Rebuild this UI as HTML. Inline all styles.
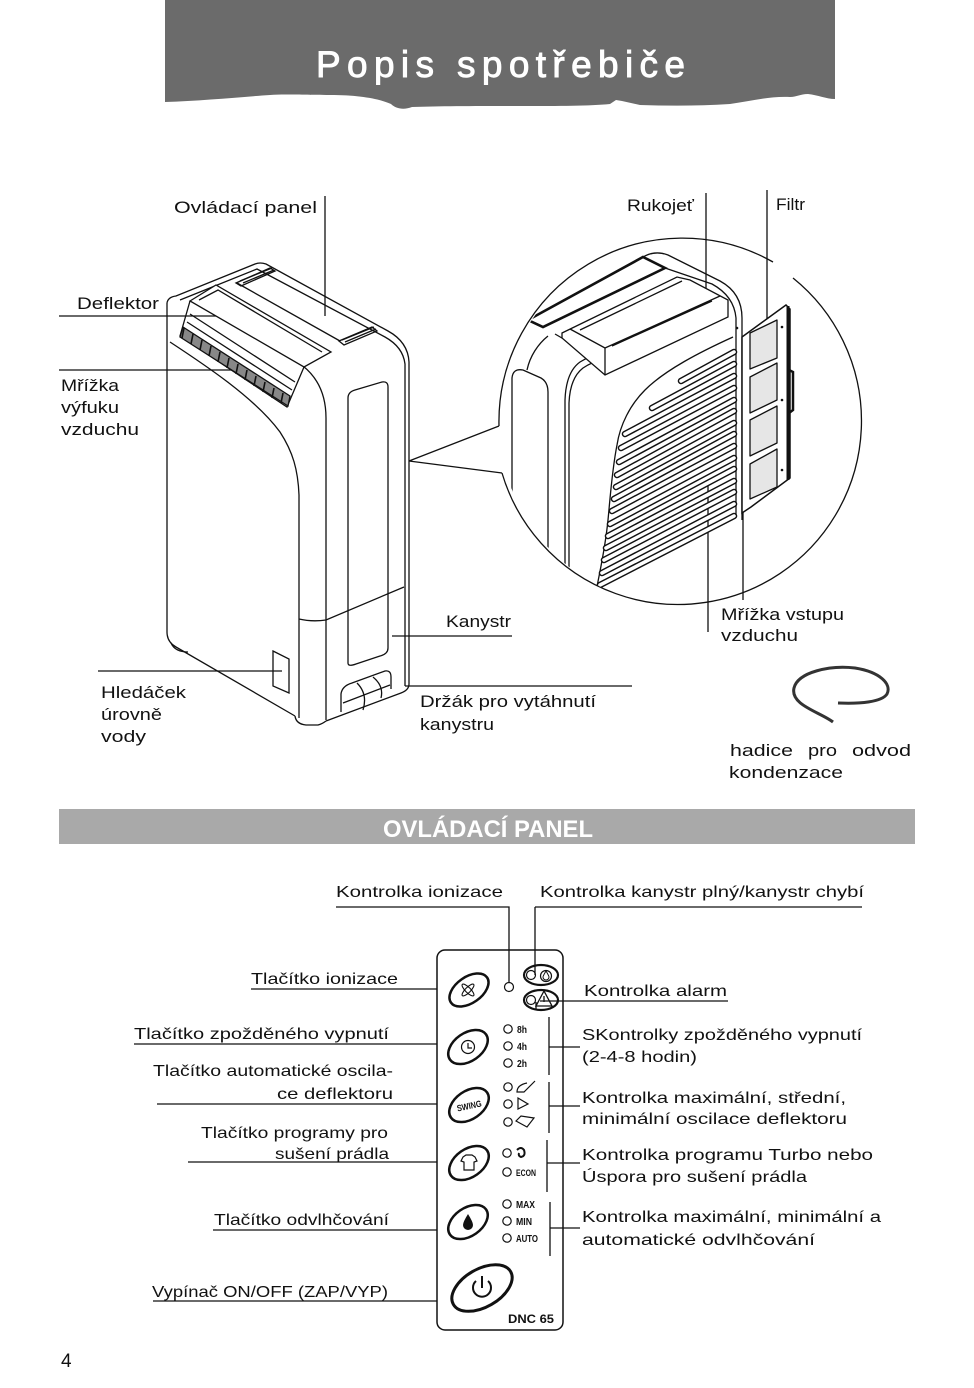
<!DOCTYPE html>
<html><head><meta charset="utf-8">
<style>
html,body{margin:0;padding:0;background:#fff;}
svg{display:block;}
text{font-family:"Liberation Sans","DejaVu Sans",sans-serif;fill:#111;}
.ln{stroke:#111;stroke-width:1.3;fill:none;}
.t{font-size:16.5px;}
.p{font-size:16px;}
.b{font-weight:bold;}
</style></head><body>
<svg width="974" height="1388" viewBox="0 0 974 1388" xmlns="http://www.w3.org/2000/svg">
<defs>
<clipPath id="cc"><circle cx="682" cy="423.5" r="182.5"/></clipPath>
</defs>

<!-- HEADER -->
<path d="M165,0 H835 V99 C826,99 818,95 808,94 C800,94 797,97 790,97 C770,96 752,101 730,104 C700,106 670,106 640,105 L622,101 L616,100 L610,104 C590,106 560,106 520,106 C480,106 440,106 412,107 C404,110 396,109 391,104 C380,99 360,95 330,95 C300,95 285,94 270,95 C240,97 200,101 165,102 Z" fill="#6b6b6b"/>
<text x="316" y="77" font-size="37" style="fill:#fff;stroke:#fff;stroke-width:0.9" textLength="369" lengthAdjust="spacing">Popis spotřebiče</text>

<!-- UPPER LABELS -->
<g class="t">
<text x="174" y="213" textLength="143" lengthAdjust="spacingAndGlyphs">Ovládací panel</text>
<text x="77" y="309" textLength="82" lengthAdjust="spacingAndGlyphs">Deflektor</text>
<text x="61" y="391" textLength="58" lengthAdjust="spacingAndGlyphs">Mřížka</text>
<text x="61" y="413" textLength="58" lengthAdjust="spacingAndGlyphs">výfuku</text>
<text x="61" y="435" textLength="78" lengthAdjust="spacingAndGlyphs">vzduchu</text>
<text x="627" y="211" textLength="67" lengthAdjust="spacingAndGlyphs">Rukojeť</text>
<text x="776" y="210" textLength="29" lengthAdjust="spacingAndGlyphs">Filtr</text>
<text x="446" y="627" textLength="65" lengthAdjust="spacingAndGlyphs">Kanystr</text>
<text x="721" y="620" textLength="123" lengthAdjust="spacingAndGlyphs">Mřížka vstupu</text>
<text x="721" y="641" textLength="77" lengthAdjust="spacingAndGlyphs">vzduchu</text>
<text x="101" y="698" textLength="85" lengthAdjust="spacingAndGlyphs">Hledáček</text>
<text x="101" y="720" textLength="61" lengthAdjust="spacingAndGlyphs">úrovně</text>
<text x="101" y="742" textLength="45" lengthAdjust="spacingAndGlyphs">vody</text>
<text x="420" y="707" textLength="176" lengthAdjust="spacingAndGlyphs">Držák pro vytáhnutí</text>
<text x="420" y="730" textLength="74" lengthAdjust="spacingAndGlyphs">kanystru</text>
<text x="730" y="756" textLength="63" lengthAdjust="spacingAndGlyphs">hadice</text>
<text x="808" y="756" textLength="29" lengthAdjust="spacingAndGlyphs">pro</text>
<text x="852" y="756" textLength="59" lengthAdjust="spacingAndGlyphs">odvod</text>
<text x="729" y="778" textLength="114" lengthAdjust="spacingAndGlyphs">kondenzace</text>
</g>

<!-- upper leader lines -->
<g class="ln">
<path d="M325,196 V316"/>
<path d="M59,316 H243"/>
<path d="M59,370 H242"/>
<path d="M392,636 H512"/>
<path d="M98,671 H282"/>
<path d="M405,686 H632"/>
<path d="M706,193 V318"/>
<path d="M767,190 V348"/>
<path d="M708,480 V632"/>
<path d="M743,510 V600"/>
</g>

<!-- SMALL DEVICE -->
<g class="ln">
<path d="M167,303 V632 Q167,642 176,647 L295,716"/>
<path d="M171,643 Q175,652 188,652"/>
<path d="M295,716 Q296,724 306,725 L318,725 Q322,724 326,721"/>
<path d="M167,303 Q168,297 176,296 L255,264 Q260,262 266,264 L388,331 Q408,342 409,362 V684 Q409,690 401,693 L326,721"/>
<path d="M180,300 L257,269 L385,337 Q403,347 405,364 V686"/>
<path d="M170,342 C205,365 255,398 280,432 C293,452 298,470 299,495 V718"/>
<path d="M303,366 C318,378 326,395 326,418 V720"/>
<path d="M348,663 L348,398 Q348,392 355,390 L382,382 Q388,381 388,387 L388,648 Q388,654 380,656 L356,664 Q348,667 348,663 Z"/>
<path d="M299,619 Q312,622 326,620 L404,587"/>
<path d="M341,712 V694 Q342,686 352,683 L385,671 Q391,670 391,677 V689"/>
<path d="M343,703 L390,685 M357,683 Q368,694 363,710 M373,677 Q384,686 381,698"/>
<polygon points="273,651 289,659 289,693 273,686"/>
<polygon points="190,301 216,285 331,352 304,367" fill="#fff"/>
<path d="M199,300 L218,290 L322,352"/>
<path d="M190,301 L180,336 L287,407 L304,367"/>
<path d="M190,314 L295,382 M187,322 L292,390"/>
<polygon points="183,327 290,396 288,406 180,337" fill="#888"/>
<path d="M184,328 L182,338 M193,334 L191,344 M202,340 L200,350 M211,346 L209,356 M220,352 L218,362 M229,358 L227,368 M238,364 L236,374 M247,370 L245,380 M256,376 L254,386 M265,382 L263,392 M274,388 L272,398 M283,393 L281,403" stroke-width="1.6"/>
<path d="M237,283 L340,341"/>
<polygon points="236,283 270,268 275,271 241,286"/>
<path d="M240,281 L272,268 M243,283 L274,270"/>
<polygon points="339,341 372,327 377,331 344,345"/>
<path d="M342,340 L374,327 M345,342 L376,329"/>
<path d="M409,461 L499,426 M409,461 L502,473"/>
</g>

<!-- CIRCLE -->
<g class="ln">
<path d="M502,473 A183.5,183.5 0 1 0 793,278"/>
<path d="M773,262 A183.5,183.5 0 0 0 499,426"/>
</g>

<g clip-path="url(#cc)">
<g class="ln">
<path d="M512,600 V378 Q513,368 523,370 L541,378 Q548,382 548,392 V600"/>
<path d="M565,600 V400 Q566,372 580,362 Q590,356 600,353 M569,600 V403 Q570,378 583,368 Q592,362 603,359"/>
<path d="M548,336 C538,344 530,356 527,370"/>
<path d="M555,334 C565,340 575,345 586,350"/>
<path d="M643,257 Q655,250 668,255 L720,281 Q742,293 742,318 V520"/>
<path d="M665,268 L712,284 Q734,296 736,318 V515"/>
<polygon points="528,320 643,257 665,268 543,327" fill="#fff" stroke-width="2.6"/>
<path d="M562,333 L677,277 L690,280 L728,300 L728,317 L605,375 L562,338 Z" fill="#fff"/>
<path d="M570,329 L605,348 L720,296 M605,348 V375 M580,330 L682,281 M612,346 L712,301"/>
<path d="M733,337 C700,352 665,370 645,390 C630,405 620,425 617,445 C612,470 610,500 608,520 C605,550 600,570 596,592"/>
</g>
<g stroke-linecap="round" fill="none">
<g stroke="#111" stroke-width="6.5">
<path d="M681,381 L734,352 M652,408 L734,364 M625,434 L734,376 M621,448 L734,388 M619,462 L734,400 M617,475 L734,411 M616,487 L734,423 M614,499 L734,434 M612,511 L734,446 M610,524 L734,458 M608,536 L734,469 M606,548 L734,481 M604,560 L734,492 M602,573 L734,504 M600,585 L734,516"/>
</g>
<g stroke="#fff" stroke-width="3.6">
<path d="M681,381 L734,352 M652,408 L734,364 M625,434 L734,376 M621,448 L734,388 M619,462 L734,400 M617,475 L734,411 M616,487 L734,423 M614,499 L734,434 M612,511 L734,446 M610,524 L734,458 M608,536 L734,469 M606,548 L734,481 M604,560 L734,492 M602,573 L734,504 M600,585 L734,516"/>
</g>
</g>
<circle cx="737" cy="328" r="1.3" fill="#111"/>
<!-- filter -->
<polygon points="742,337 786,305 790,309 790,478 751,507 742,513" fill="#fff" stroke="#111" stroke-width="1.5"/>
<path d="M788,306 V480" stroke="#111" stroke-width="3"/>
<g fill="#e6e6e6" stroke="#111" stroke-width="1.3" stroke-linejoin="round">
<polygon points="750,333 777,320 777,358 750,369"/>
<polygon points="750,377 777,363 777,400 750,413"/>
<polygon points="750,420 777,406 777,443 750,456"/>
<polygon points="750,464 777,449 777,487 750,499"/>
</g>
<path d="M789,370 L793,372 V410 L789,413" stroke="#111" stroke-width="2.5" fill="none"/>
<circle cx="782" cy="327" r="1.3" fill="#111"/>
<circle cx="782" cy="400" r="1.3" fill="#111"/>
<circle cx="782" cy="470" r="1.3" fill="#111"/>
</g>

<!-- hose -->
<path d="M833,722 C820,712 790,705 794,688 C798,672 830,665 855,668 C880,672 892,684 887,694 C882,702 860,704 838,703" stroke="#333" stroke-width="3" fill="none"/>

<!-- SECTION BAR -->
<rect x="59" y="809" width="856" height="35" fill="#a9a9a9"/>
<text x="383" y="837" font-size="24" class="b" style="fill:#fff" textLength="210" lengthAdjust="spacingAndGlyphs">OVLÁDACÍ PANEL</text>

<!-- PANEL LABELS -->
<g class="p">
<text x="336" y="897" textLength="167" lengthAdjust="spacingAndGlyphs">Kontrolka ionizace</text>
<text x="540" y="897" textLength="324" lengthAdjust="spacingAndGlyphs">Kontrolka kanystr plný/kanystr chybí</text>
<text x="251" y="984" textLength="147" lengthAdjust="spacingAndGlyphs">Tlačítko ionizace</text>
<text x="584" y="996" textLength="143" lengthAdjust="spacingAndGlyphs">Kontrolka alarm</text>
<text x="134" y="1039" textLength="255" lengthAdjust="spacingAndGlyphs">Tlačítko zpožděného vypnutí</text>
<text x="582" y="1040" textLength="280" lengthAdjust="spacingAndGlyphs">SKontrolky zpožděného vypnutí</text>
<text x="582" y="1062" textLength="115" lengthAdjust="spacingAndGlyphs">(2-4-8 hodin)</text>
<text x="153" y="1076" textLength="240" lengthAdjust="spacingAndGlyphs">Tlačítko automatické oscila-</text>
<text x="277" y="1099" textLength="116" lengthAdjust="spacingAndGlyphs">ce deflektoru</text>
<text x="582" y="1103" textLength="264" lengthAdjust="spacingAndGlyphs">Kontrolka maximální, střední,</text>
<text x="582" y="1124" textLength="265" lengthAdjust="spacingAndGlyphs">minimální oscilace deflektoru</text>
<text x="201" y="1138" textLength="187" lengthAdjust="spacingAndGlyphs">Tlačítko programy pro</text>
<text x="275" y="1159" textLength="114" lengthAdjust="spacingAndGlyphs">sušení prádla</text>
<text x="582" y="1160" textLength="291" lengthAdjust="spacingAndGlyphs">Kontrolka programu Turbo nebo</text>
<text x="582" y="1182" textLength="225" lengthAdjust="spacingAndGlyphs">Úspora pro sušení prádla</text>
<text x="214" y="1225" textLength="175" lengthAdjust="spacingAndGlyphs">Tlačítko odvlhčování</text>
<text x="582" y="1222" textLength="299" lengthAdjust="spacingAndGlyphs">Kontrolka maximální, minimální a</text>
<text x="582" y="1245" textLength="233" lengthAdjust="spacingAndGlyphs">automatické odvlhčování</text>
<text x="152" y="1297" textLength="236" lengthAdjust="spacingAndGlyphs">Vypínač ON/OFF (ZAP/VYP)</text>
</g>
<text x="61" y="1367" font-size="19">4</text>

<!-- panel leader lines -->
<g class="ln">
<path d="M336,907 H509 V983"/>
<path d="M535,907 H862 M535,907 V975"/>
<path d="M540,1001 H728 M536,1002 V1010"/>
<path d="M251,989 H437"/>
<path d="M134,1044 H437"/>
<path d="M157,1104 H437"/>
<path d="M188,1162 H437"/>
<path d="M213,1230 H437"/>
<path d="M153,1301 H437"/>
<path d="M549,1017 V1075 M549,1047 H580"/>
<path d="M549,1082 V1133 M549,1106 H580"/>
<path d="M547,1140 V1192 M547,1163 H580"/>
<path d="M550,1202 V1256 M550,1228 H580"/>
</g>

<!-- PANEL -->
<rect x="437" y="950" width="126" height="380" rx="8" fill="none" stroke="#111" stroke-width="1.5"/>
<g fill="none" stroke="#111">
<ellipse cx="469" cy="990" rx="22" ry="13" transform="rotate(-35 469 990)" stroke-width="2.5"/>
<ellipse cx="468" cy="990" rx="8" ry="2.6" transform="rotate(45 468 990)" stroke-width="1.1"/>
<ellipse cx="468" cy="990" rx="8" ry="2.6" transform="rotate(-45 468 990)" stroke-width="1.1"/>
<circle cx="509" cy="987" r="4.5" stroke-width="1.2"/>
<ellipse cx="541" cy="975" rx="17" ry="10" stroke-width="2.2"/>
<circle cx="531" cy="975" r="4.5" stroke-width="1.2"/>
<circle cx="546" cy="976" r="5.5" stroke-width="1.2"/>
<path d="M546,971 Q543,976 543,977 A3,3 0 0 0 549,977 Q549,976 546,971 Z" stroke-width="1"/>
<ellipse cx="541" cy="1000" rx="17" ry="10" stroke-width="2.2"/>
<circle cx="531" cy="1000" r="4.5" stroke-width="1.2"/>
<path d="M544,991 L536,1006 L552,1006 Z M544,996 V1002" stroke-width="1.3"/>

<ellipse cx="468" cy="1047" rx="22" ry="14" transform="rotate(-35 468 1047)" stroke-width="2.5"/>
<circle cx="468" cy="1047" r="6.5" stroke-width="1.2"/>
<path d="M468,1043 V1048 H472" stroke-width="1.2"/>
<circle cx="508" cy="1029" r="4.2" stroke-width="1.2"/>
<circle cx="508" cy="1046" r="4.2" stroke-width="1.2"/>
<circle cx="508" cy="1063" r="4.2" stroke-width="1.2"/>

<ellipse cx="469" cy="1105" rx="22" ry="14" transform="rotate(-35 469 1105)" stroke-width="2.5"/>
<circle cx="508" cy="1087" r="4.2" stroke-width="1.2"/>
<circle cx="508" cy="1104" r="4.2" stroke-width="1.2"/>
<circle cx="508" cy="1122" r="4.2" stroke-width="1.2"/>
<path d="M527,1083 Q517,1085 517,1092 L524,1092 L535,1081" stroke-width="1.2"/>
<path d="M518,1098 L528,1104 L518,1109 Z" stroke-width="1.2"/>
<path d="M516,1121 L521,1116 L534,1118 L527,1127 Z" stroke-width="1.2"/>

<ellipse cx="469" cy="1163" rx="22" ry="14" transform="rotate(-35 469 1163)" stroke-width="2.5"/>
<path d="M463,1157 L466,1155 L472,1155 L475,1157 L477,1161 L474,1162 L474,1170 L464,1170 L464,1162 L461,1161 Z" stroke-width="1.2"/>
<circle cx="507" cy="1153" r="4.2" stroke-width="1.2"/>
<path d="M517,1150 Q521,1146 524,1150 Q526,1156 521,1157 Q518,1156 519,1153" stroke-width="2"/>
<circle cx="507" cy="1172" r="4.2" stroke-width="1.2"/>

<ellipse cx="468" cy="1222" rx="22" ry="14" transform="rotate(-35 468 1222)" stroke-width="2.5"/>
<circle cx="507" cy="1204" r="4.2" stroke-width="1.2"/>
<circle cx="507" cy="1221" r="4.2" stroke-width="1.2"/>
<circle cx="507" cy="1238" r="4.2" stroke-width="1.2"/>

<ellipse cx="482" cy="1288" rx="33" ry="19" transform="rotate(-30 482 1288)" stroke-width="3"/>
<path d="M476,1281 A9,9 0 1 0 488,1281" stroke-width="2"/>
<path d="M482,1276 V1288" stroke-width="2"/>
</g>
<path d="M468,1214 Q463,1222 463,1225 A5,5 0 0 0 473,1225 Q473,1222 468,1214 Z" fill="#111"/>
<g class="b" font-size="10">
<text x="517" y="1033" textLength="10" lengthAdjust="spacingAndGlyphs">8h</text>
<text x="517" y="1050" textLength="10" lengthAdjust="spacingAndGlyphs">4h</text>
<text x="517" y="1067" textLength="10" lengthAdjust="spacingAndGlyphs">2h</text>
<text x="516" y="1176" font-size="9" textLength="20" lengthAdjust="spacingAndGlyphs">ECON</text>
<text x="516" y="1208" textLength="19" lengthAdjust="spacingAndGlyphs">MAX</text>
<text x="516" y="1225" textLength="16" lengthAdjust="spacingAndGlyphs">MIN</text>
<text x="516" y="1242" textLength="22" lengthAdjust="spacingAndGlyphs">AUTO</text>
<text x="469" y="1109" font-size="9" text-anchor="middle" transform="rotate(-12 469 1105)" textLength="25" lengthAdjust="spacingAndGlyphs">SWING</text>
<text x="508" y="1323" font-size="11.5" textLength="46" lengthAdjust="spacingAndGlyphs">DNC 65</text>
</g>
</svg>
</body></html>
